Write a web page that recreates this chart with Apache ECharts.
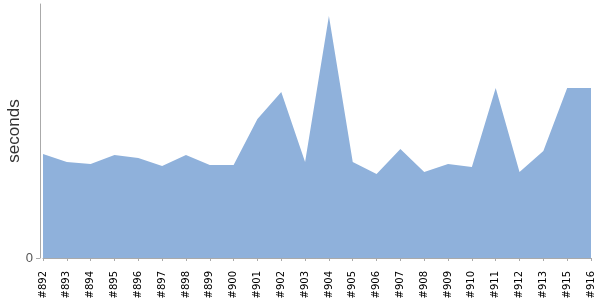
<!DOCTYPE html>
<html><head><meta charset="utf-8">
<script src="https://cdn.jsdelivr.net/npm/echarts@6/dist/echarts.min.js"></script>
<style>html,body{margin:0;padding:0;background:#fff}#c{width:600px;height:300px}</style>
</head><body><div id="c"></div>
<script>
const categories = ['#892','#893','#894','#895','#896','#897','#898','#899','#900','#901','#902','#903','#904','#905','#906','#907','#908','#909','#910','#911','#912','#913','#915','#916'];
const seconds = [104,96,94,103,100,92,103,93,93,139,166,96,242,96,84,109,86,94,91,170,86,107,170,170];
const yMax = 254;
const yTicks = [0];

const chart = echarts.init(document.getElementById('c'));
chart.setOption({
  animation: false,
  grid: {left: 43, right: 9, top: 4, bottom: 42, containLabel: false, outerBoundsMode: 'none'},
  xAxis: {
    type: 'category', data: categories, boundaryGap: false, offset: 5,
    axisLine: {lineStyle: {color: '#aaa'}},
    axisTick: {show: true, alignWithLabel: true, length: 3, lineStyle: {color: '#aaa'}},
    axisLabel: {rotate: 90, interval: 0, fontSize: 10, color: '#000', fontFamily: 'DejaVu Sans', margin: 8}
  },
  yAxis: {
    type: 'value', min: 0, max: yMax, offset: 3,
    name: 'seconds', nameLocation: 'middle', nameGap: 17, nameMoveOverlap: false,
    nameTextStyle: {fontSize: 17, color: '#333', fontFamily: 'Liberation Sans'},
    axisLine: {show: true, lineStyle: {color: '#aaa'}},
    axisTick: {show: true, length: 4, lineStyle: {color: '#aaa'}, customValues: yTicks},
    splitLine: {show: false},
    axisLabel: {fontSize: 13, color: '#555', fontFamily: 'Liberation Sans', margin: 7, customValues: yTicks}
  },
  series: [{
    type: 'line', data: seconds, symbol: 'none',
    lineStyle: {width: 0},
    areaStyle: {color: '#8fb1db', opacity: 1}
  }]
});
</script></body></html>
